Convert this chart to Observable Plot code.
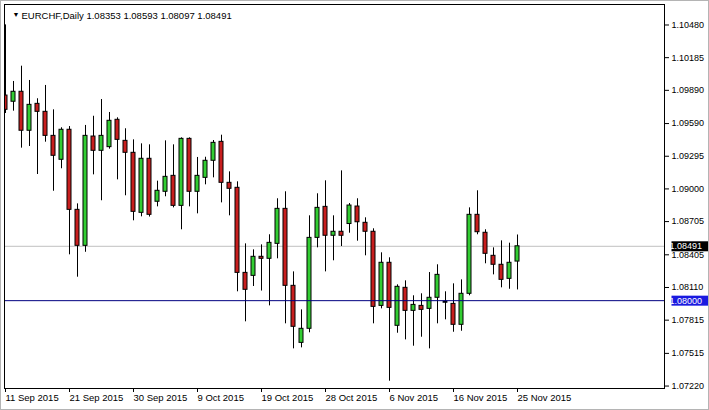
<!DOCTYPE html>
<html><head><meta charset="utf-8">
<script src="https://cdn.jsdelivr.net/npm/d3@7"></script>
<script src="https://cdn.jsdelivr.net/npm/@observablehq/plot@0.6"></script>
<style>
html,body{margin:0;padding:0;background:#fff;}
#chart svg{display:block;outline:1px solid #b4b4b4;outline-offset:-1px;}
</style></head><body><div id="chart"></div>
<script>
const symbol = "EURCHF", period = "Daily";
const open  = [1.09852,1.09796,1.09886,1.09534,1.09777,1.09705,1.09488,1.09272,1.09543,1.08820,
               1.08495,1.09482,1.09353,1.09386,1.09633,1.09443,1.09335,1.08793,1.09281,1.08893,
               1.08983,1.09127,1.08856,1.09461,1.08983,1.09109,1.09263,1.09434,1.09064,1.09019,
               1.08251,1.08224,1.08396,1.08378,1.08513,1.08829,1.08134,1.07619,1.07746,1.08567,
               1.08847,1.08586,1.08622,1.08692,1.08850,1.08703,1.08622,1.07953,1.08342,1.07773,
               1.08116,1.07908,1.07953,1.07926,1.08026,1.07990,1.07971,1.07782,1.08062,1.08775,
               1.08613,1.08405,1.08324,1.08197,1.08353];
const high  = [1.10490,1.09979,1.10117,1.09988,1.09823,1.09943,1.09723,1.09561,1.09572,1.08874,
               1.09582,1.09665,1.09816,1.09699,1.09651,1.09552,1.09452,1.09416,1.09407,1.09079,
               1.09443,1.09407,1.09470,1.09470,1.09293,1.09295,1.09446,1.09494,1.09163,1.09073,
               1.08513,1.08459,1.08504,1.08595,1.08920,1.08983,1.08260,1.07917,1.08766,1.08965,
               1.09082,1.08766,1.09172,1.08877,1.08920,1.08748,1.08649,1.08432,1.08387,1.08143,
               1.08179,1.08044,1.08062,1.08254,1.08324,1.08080,1.08152,1.08188,1.08838,1.08992,
               1.08640,1.08477,1.08540,1.08519,1.08593];
const low   = [1.09690,1.09711,1.09377,1.09392,1.09139,1.09431,1.08988,1.09191,1.08414,1.08212,
               1.08437,1.09136,1.08902,1.09368,1.09091,1.08947,1.08721,1.08757,1.08755,1.08847,
               1.08938,1.08838,1.08640,1.08847,1.08784,1.09046,1.09109,1.08883,1.08766,1.08080,
               1.07809,1.08128,1.08087,1.07953,1.08378,1.07791,1.07565,1.07574,1.07710,1.08477,
               1.08260,1.08360,1.08489,1.08609,1.08537,1.08405,1.07791,1.07926,1.07273,1.07706,
               1.07646,1.07589,1.07670,1.07565,1.07791,1.07827,1.07715,1.07724,1.08044,1.08595,
               1.08333,1.08233,1.08116,1.08103,1.08097];
const close = [1.09723,1.09886,1.09534,1.09768,1.09705,1.09488,1.09308,1.09543,1.08820,1.08495,
               1.09488,1.09353,1.09488,1.09624,1.09452,1.09335,1.08802,1.09281,1.08775,1.08992,
               1.09118,1.08856,1.09461,1.08983,1.09127,1.09263,1.09425,1.09064,1.09010,1.08251,
               1.08098,1.08396,1.08378,1.08522,1.08829,1.08134,1.07764,1.07746,1.08567,1.08838,
               1.08586,1.08622,1.08586,1.08859,1.08708,1.08622,1.07944,1.08342,1.07935,1.08125,
               1.07908,1.07962,1.07917,1.08026,1.08233,1.07990,1.07782,1.08062,1.08775,1.08618,
               1.08423,1.08324,1.08188,1.08342,1.08491];
const tickIndex  = [0, 8, 16, 24, 32, 40, 48, 56, 64];
const tickLabels = ["11 Sep 2015","21 Sep 2015","30 Sep 2015","9 Oct 2015","19 Oct 2015",
                    "28 Oct 2015","6 Nov 2015","16 Nov 2015","25 Nov 2015"];
const yTicks = [1.10480,1.10185,1.09890,1.09590,1.09295,1.09000,1.08705,1.08405,1.08110,1.07815,1.07515,1.07220];
const hLine = 1.08000;

const candles = open.map((o, i) => ({i, o, h: high[i], l: low[i], c: close[i]}));
const last = candles[candles.length - 1];
const tags = [{v: last.c, bg: "#000000"}, {v: hLine, bg: "#1a1ae0"}];
const title = `${symbol},${period} ${last.o.toFixed(5)} ${last.h.toFixed(5)} ${last.l.toFixed(5)} ${last.c.toFixed(5)}`;

const plot = Plot.plot({
  width: 709, height: 410,
  marginLeft: 4, marginRight: 45, marginTop: 4, marginBottom: 22,
  style: {fontFamily: "'Liberation Sans', Arial, sans-serif", fontSize: "9px", background: "#fff", color: "#000"},
  x: {type: "linear", domain: [-0.125, 82.375], label: null},
  y: {domain: [1.07207, 1.10674], label: null},
  marks: [
    Plot.ruleY([last.c], {stroke: "#c0c0c0"}),
    Plot.ruleX(candles, {x: "i", y1: "l", y2: "h", stroke: "#000", clip: true}),
    Plot.rect(candles.filter(d => d.o !== d.c), {
      x1: d => d.i - 0.25, x2: d => d.i + 0.25, y1: "o", y2: "c",
      fill: d => d.c > d.o ? "#32cd32" : "#c81e1e", stroke: "#000", clip: true
    }),
    Plot.ruleY(candles.filter(d => d.o === d.c), {x1: d => d.i - 0.3, x2: d => d.i + 0.3, y: "o", stroke: "#000", strokeWidth: 2}),
    Plot.ruleY([hLine], {stroke: "#000080"}),
    Plot.frame({stroke: "#000"}),
    Plot.axisY({anchor: "right", label: null, ticks: yTicks, tickFormat: d => d.toFixed(5), tickSize: 4, tickPadding: 3, dy: -1, fontSize: 9}),
    Plot.axisX({anchor: "bottom", label: null, ticks: tickIndex, tickFormat: d => tickLabels[tickIndex.indexOf(d)], tickSize: 4, tickPadding: 2, textAnchor: "start", fontSize: 9.5}),
    Plot.text(tags, {
      y: "v", text: d => d.v.toFixed(5), frameAnchor: "right", dx: 5, textAnchor: "start",
      fill: "#fff", fontSize: 9,
      render(index, scales, values, dimensions, context, next) {
        const g = next(index, scales, values, dimensions, context);
        const x0 = dimensions.width - dimensions.marginRight + 2;
        for (const i of index) {
          const r = document.createElementNS("http://www.w3.org/2000/svg", "rect");
          r.setAttribute("x", x0);
          r.setAttribute("y", values.y[i] - 5);
          r.setAttribute("width", 41);
          r.setAttribute("height", 10);
          r.setAttribute("fill", tags[i].bg);
          g.insertBefore(r, g.firstChild);
        }
        return g;
      }
    }),
    Plot.text(["▼"], {frameAnchor: "top-left", dx: 8, dy: 8, fontSize: 7, fill: "#000"}),
    Plot.text([title], {frameAnchor: "top-left", dx: 17, dy: 8, textAnchor: "start", fontSize: 9.5, fill: "#000"})
  ]
});
document.getElementById("chart").appendChild(plot);
</script>
</body></html>
